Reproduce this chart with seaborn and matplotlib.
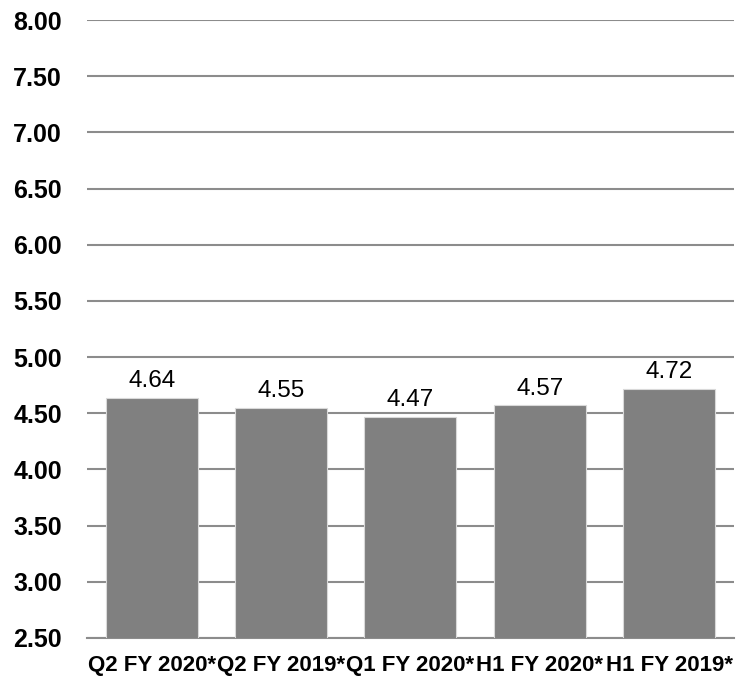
import matplotlib
matplotlib.use("Agg")
import matplotlib.pyplot as plt
import seaborn as sns
import pandas as pd
import numpy as np

# data
categories = ["Q2 FY 2020*", "Q2 FY 2019*", "Q1 FY 2020*", "H1 FY 2020*", "H1 FY 2019*"]
values = [4.64, 4.55, 4.47, 4.57, 4.72]
yticks = [2.5, 3.0, 3.5, 4.0, 4.5, 5.0, 5.5, 6.0, 6.5, 7.0, 7.5, 8.0]

df = pd.DataFrame({"period": categories, "value": values})

sns.set_style("white")
plt.rcParams["font.family"] = ["Liberation Sans", "DejaVu Sans"]

fig = plt.figure(figsize=(7.4, 6.78), dpi=100)
ax = fig.add_axes([0.1176, 0.059, 0.874, 0.9115])

sns.barplot(data=df, x="period", y="value", color="#808080", saturation=1,
            width=0.71, edgecolor="#d9d9d9", linewidth=0.8, ax=ax, zorder=3)

ax.set_ylim(2.5, 8.0)
ax.set_xlim(-0.5, len(categories) - 0.5)
ax.set_yticks(yticks)
ax.set_yticklabels([f"{v:.2f}" for v in yticks], fontsize=18, fontweight="bold")
ax.yaxis.grid(True, color="#8c8c8c", linewidth=1.5, zorder=0)
ax.set_axisbelow(True)

for s in ["top", "right", "left"]:
    ax.spines[s].set_visible(False)
ax.spines["bottom"].set_color("#8c8c8c")
ax.spines["bottom"].set_linewidth(1.5)

ax.set_xticks(np.arange(-0.5, len(categories), 1.0), minor=True)
ax.tick_params(axis="x", which="major", length=0, pad=12)
ax.tick_params(axis="x", which="minor", length=6, width=1.5, color="#8c8c8c", direction="out")
ax.set_xticklabels(categories, fontsize=16, fontweight="bold")
ax.tick_params(axis="y", length=0, pad=18)

for lbl in ax.get_xticklabels() + ax.get_yticklabels():
    lbl.set_color("black")

ax.bar_label(ax.containers[0], labels=[f"{v:.2f}" for v in values],
             padding=4, fontsize=17.5, color="black")

ax.set_xlabel("")
ax.set_ylabel("")
fig.savefig("out.png", dpi=100)
